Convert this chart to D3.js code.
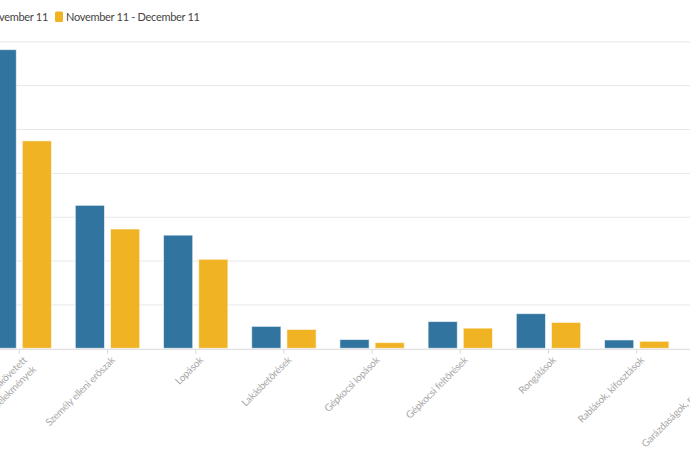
<!DOCTYPE html>
<html>
<head>
<meta charset="utf-8">
<script src="https://cdn.jsdelivr.net/npm/d3@7"></script>
<style>
    body { margin: 0; background: #fff; overflow: hidden; }
    #chart { width: 690px; height: 459px; }
    .grid-line { stroke: #e8e8e8; stroke-width: 1; }
    .x-axis path, .x-axis line { stroke: #d9d9d9; }
    .x-axis text { fill: #a8a8a8; font-family: Lato, "Open Sans", sans-serif; font-size: 10px; letter-spacing: -0.2px; }
    .legend text { fill: #444; font-family: Lato, "Open Sans", sans-serif; font-size: 11px; letter-spacing: -0.3px; }
</style>
</head>
<body>
<div id="chart"></div>
<script>
const categories = [
    ["Összes elkövetett", "bűncselekmények"],
    ["Személy elleni erőszak"],
    ["Lopások"],
    ["Lakásbetörések"],
    ["Gépkocsi lopások"],
    ["Gépkocsi feltörések"],
    ["Rongálások"],
    ["Rablások, kifosztások"],
    ["Garázdaságok, randalírozások"]
];
const seriesNames = ["Október 11 - November 11", "November 11 - December 11"];
const seriesColors = ["#31749f", "#f0b323"];
const period1 = [681, 326, 258, 50, 20, 61, 79, 19, 30];
const period2 = [473, 272, 203, 43, 13, 46, 59, 16, 24];
const yTicks = [0, 100, 200, 300, 400, 500, 600, 700];

const width = 690, height = 459;
// the visible picture is a crop: plot area starts left of the window and runs past the right edge
const plotLeft = -24.8, plotRight = plotLeft + 88.2 * categories.length;
const plotTop = 41.3, plotBottom = 348.3;

const data = categories.map((c, i) => ({ key: i, label: c, values: [period1[i], period2[i]] }));

const svg = d3.select("#chart")
    .append("svg")
    .attr("width", width)
    .attr("height", height);

const x = d3.scaleBand()
    .domain(data.map(d => d.key))
    .range([plotLeft, plotRight])
    .paddingInner(0.27)
    .paddingOuter(0.135);

const xInner = d3.scaleBand()
    .domain([0, 1])
    .range([0, x.bandwidth()])
    .paddingInner(0.17);

const y = d3.scaleLinear()
    .domain([0, 700])
    .range([plotBottom, plotTop]);

svg.selectAll(".y-grid")
    .data(yTicks.filter(t => t > 0))
    .enter()
    .append("line")
    .attr("class", "grid-line")
    .attr("x1", plotLeft - 40)
    .attr("x2", plotRight)
    .attr("y1", d => y(d) + 0.5)
    .attr("y2", d => y(d) + 0.5);

const groups = svg.selectAll(".group")
    .data(data)
    .enter()
    .append("g")
    .attr("class", "group")
    .attr("transform", d => `translate(${x(d.key)},0)`);

groups.selectAll("rect")
    .data(d => d.values.map((v, s) => ({ s, v })))
    .enter()
    .append("rect")
    .attr("x", d => xInner(d.s))
    .attr("width", xInner.bandwidth())
    .attr("y", d => y(d.v))
    .attr("height", d => y(0) - y(d.v))
    .attr("fill", d => seriesColors[d.s])
    .attr("stroke", "#fff")
    .attr("stroke-opacity", 0.6)
    .attr("stroke-width", 1);

const xAxis = svg.append("g")
    .attr("class", "x-axis")
    .attr("transform", `translate(0,${plotBottom + 0.5})`)
    .call(d3.axisBottom(x).tickSize(5).tickSizeOuter(0).tickFormat(""));

xAxis.selectAll(".tick")
    .append("text")
    .attr("transform", "translate(3,7) rotate(-45)")
    .attr("text-anchor", "end")
    .each(function (k) {
        const lines = categories[k];
        const t = d3.select(this);
        lines.forEach((ln, j) => {
            t.append("tspan")
                .attr("x", 0)
                .attr("dy", j === 0 ? "0.71em" : "1.3em")
                .text(ln);
        });
    });

// legend, first item sits partly outside the window
const legend = svg.append("g").attr("class", "legend");
let lx = 66;
const item2 = legend.append("g");
item2.append("rect")
    .attr("x", lx - 11).attr("y", 11.5)
    .attr("width", 8).attr("height", 10.5)
    .attr("rx", 1.5)
    .attr("fill", seriesColors[1]);
item2.append("text")
    .attr("x", lx).attr("y", 21)
    .text(seriesNames[1]);

const item1Text = legend.append("text")
    .attr("y", 21)
    .attr("text-anchor", "end")
    .attr("x", 48)
    .text(seriesNames[0]);
const w1 = item1Text.node().getComputedTextLength();
legend.append("rect")
    .attr("x", 48 - w1 - 15).attr("y", 11.5)
    .attr("width", 8).attr("height", 10.5)
    .attr("rx", 1.5)
    .attr("fill", seriesColors[0]);
</script>
</body>
</html>
